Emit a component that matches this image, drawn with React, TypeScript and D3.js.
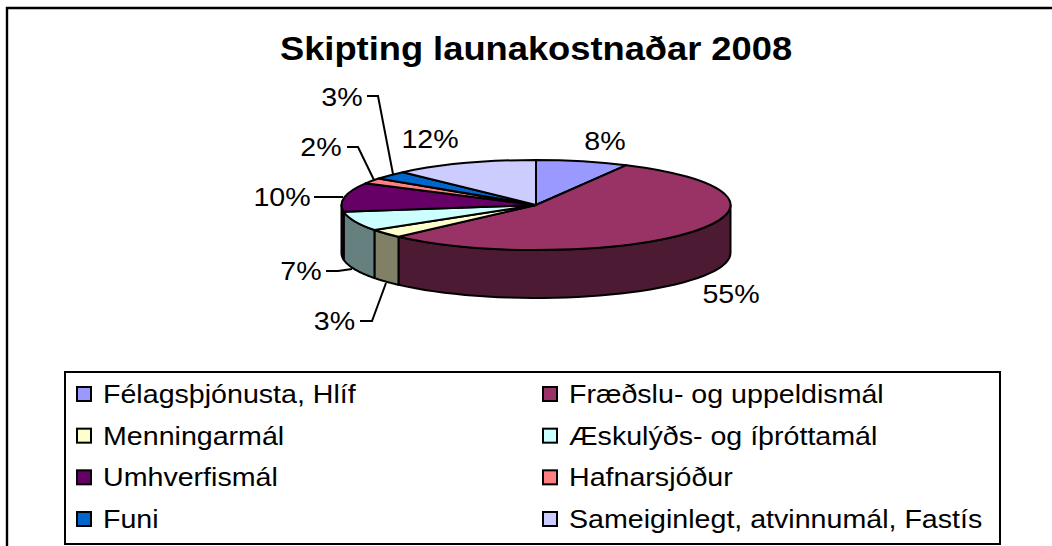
import React from "react";
import * as d3 from "d3";

const categories = ["Félagsþjónusta, Hlíf","Fræðslu- og uppeldismál","Menningarmál","Æskulýðs- og íþróttamál","Umhverfismál","Hafnarsjóður","Funi","Sameiginlegt, atvinnumál, Fastís"];
const values = [7.7,54.8,3.1,7,10.4,2,3,12];
const colors = ["#9999FF","#993366","#FFFFCC","#CCFFFF","#660066","#FF8080","#0066CC","#CCCCFF"];
const sideColors = ["#4D4D80","#4D1A33","#808066","#668080","#330033","#804040","#003366","#666680"];
const labelText = ["8%","55%","3%","7%","10%","2%","3%","12%"];
const labelX = [605,731,334.5,301,282,321,342,430];
const labelY = [150,303,330,280,206,156,106,148];
const labelLeaders: ([number,number][]|null)[] = [
  null,null,
  [[360,321],[372,321],[386,283]],
  [[326,271],[338,271],[352,269]],
  [[314,197],[343,197]],
  [[347,147],[358,147],[374,180]],
  [[367,96],[378,96],[393,174]],
  null,
];

const CX = 536, CY = 205, RX = 194.5, RY = 45, DEPTH = 48;
const pt = (a: number, dy = 0): [number, number] => [CX + RX * Math.sin(a), CY - RY * Math.cos(a) + dy];

export default function App() {
  const slices = d3.pie<number>().sort(null).startAngle(0).endAngle(2 * Math.PI)(values);
  const arc = d3.arc<d3.PieArcDatum<number>>().innerRadius(0).outerRadius(RX);
  const line = d3.line();
  const legendX = d3.scaleOrdinal<number, number>().domain([0, 1]).range([77, 543]);
  const legendY = d3.scalePoint<number>().domain([0, 1, 2, 3]).range([394, 519]);
  const font = "'Liberation Sans', Arial, sans-serif";
  return (
    <svg width={1052} height={546} style={{ position: "absolute", left: 0, top: 0, background: "#fff" }} fontFamily={font}>
      <path d="M7 546V8H1052" fill="none" stroke="#000" strokeWidth={2.4} />
      <text transform="translate(536,60) scale(1.1,1)" fontSize={33} fontWeight="bold" textAnchor="middle" fill="#000">Skipting launakostnaðar 2008</text>

      {slices.map((s, i) => {
        const a0 = Math.max(s.startAngle, Math.PI / 2);
        const a1 = Math.min(s.endAngle, 3 * Math.PI / 2);
        if (a1 <= a0) return null;
        const angles = d3.range(0, 41).map((k) => a0 + ((a1 - a0) * k) / 40);
        const pts: [number, number][] = [...angles.map((a) => pt(a)), ...angles.slice().reverse().map((a) => pt(a, DEPTH))];
        return <path key={i} d={line(pts) + "Z"} fill={sideColors[i]} stroke="#000" strokeWidth={2} strokeLinejoin="round" />;
      })}

      <g transform={`translate(${CX},${CY}) scale(1,${RY / RX})`}>
        {slices.map((s, i) => (
          <path key={i} d={arc(s)!} fill={colors[i]} stroke="#000" strokeWidth={2} strokeLinejoin="round" style={{ vectorEffect: "non-scaling-stroke" }} />
        ))}
      </g>

      {labelLeaders.map((l, i) => l && <path key={i} d={line(l)!} fill="none" stroke="#000" strokeWidth={2} />)}
      {labelText.map((t, i) => (
        <text key={i} transform={`translate(${labelX[i]},${labelY[i]}) scale(1.1,1)`} fontSize={26} textAnchor="middle" fill="#000">{t}</text>
      ))}

      <rect x={65} y={372} width={935} height={172} fill="#fff" stroke="#000" strokeWidth={2} />
      {categories.map((c, i) => {
        const x = legendX(i % 2), y = legendY(Math.floor(i / 2))!;
        return (
          <g key={i}>
            <rect x={x} y={y - 7} width={14} height={14} fill={colors[i]} stroke="#000" strokeWidth={2} />
            <text transform={`translate(${x + 26},${y + 9}) scale(1.1,1)`} fontSize={26} fill="#000">{c}</text>
          </g>
        );
      })}
    </svg>
  );
}
